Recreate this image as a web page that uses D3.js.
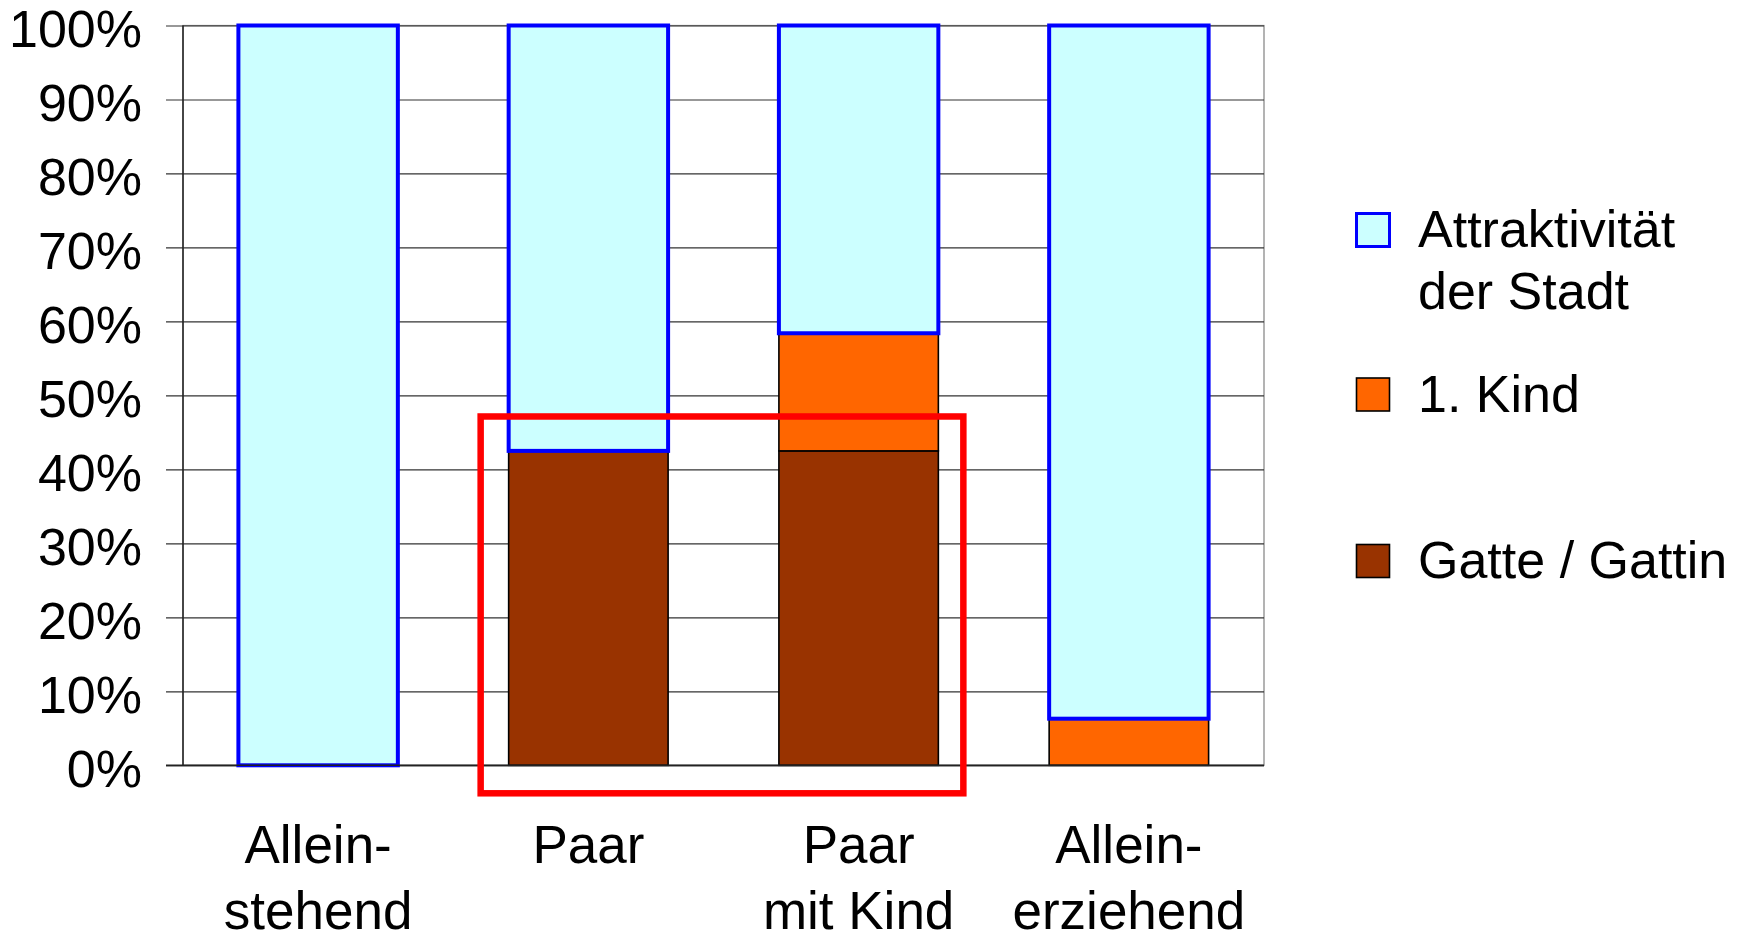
<!DOCTYPE html>
<html>
<head>
<meta charset="utf-8">
<script src="https://cdn.jsdelivr.net/npm/d3@7"></script>
<style>
  html, body { margin: 0; padding: 0; background: #fff; }
  svg { display: block; font-family: "Liberation Sans", Arial, sans-serif; }
</style>
</head>
<body>
<svg id="chart" width="1743" height="933"></svg>
<script>
// Household types (each label split into its drawn lines)
const categories = ["Alleinstehend", "Paar", "Paar mit Kind", "Alleinerziehend"];
const categoryLines = [["Allein-", "stehend"], ["Paar"], ["Paar", "mit Kind"], ["Allein-", "erziehend"]];

// Share of each reason (percent), stacked bottom to top
const gatte = [0, 42.5, 42.5, 0];
const kind = [0, 0, 15.9, 6.3];
const attraktivitaet = [100, 57.5, 41.6, 93.7];

const seriesNames = ["Gatte / Gattin", "1. Kind", "Attraktivität der Stadt"];
const yTicks = [0, 10, 20, 30, 40, 50, 60, 70, 80, 90, 100];

// Highlighted group
const highlighted = ["Paar", "Paar mit Kind"];

const svg = d3.select("#chart");
const plot = { left: 183, right: 1264, top: 25.5, bottom: 765.3 };

const x = d3.scaleBand().domain(categories)
  .range([plot.left, plot.right])
  .paddingInner(0.41).paddingOuter(0.205);
const y = d3.scaleLinear().domain([0, 100]).range([plot.bottom, plot.top]);

const rows = categories.map((c, i) => ({
  cat: c, gatte: gatte[i], kind: kind[i], attr: attraktivitaet[i]
}));
const keys = ["gatte", "kind", "attr"];
const stack = d3.stack().keys(keys)(rows);

const styles = {
  gatte: { fill: "#993300", stroke: "#000", sw: 1.6 },
  kind: { fill: "#FF6600", stroke: "#000", sw: 1.6 },
  attr: { fill: "#CCFFFF", stroke: "#0000FF", sw: 4 }
};

// Plot frame
svg.append("rect")
  .attr("x", plot.left).attr("y", plot.top)
  .attr("width", plot.right - plot.left).attr("height", plot.bottom - plot.top)
  .attr("fill", "none").attr("stroke", "#808080").attr("stroke-width", 1.2);

// Gridlines with outward tick marks
const yAxis = d3.axisLeft(y).tickValues(yTicks)
  .tickSize(-(plot.right - plot.left)).tickSizeOuter(0)
  .tickFormat(d => d + "%").tickPadding(41);
const gy = svg.append("g").attr("transform", `translate(${plot.left},0)`).call(yAxis);
gy.select(".domain").remove();
gy.selectAll(".tick line").attr("stroke", "#333").attr("stroke-width", 1.2)
  .attr("x1", -17);
gy.selectAll(".tick text")
  .attr("font-size", 52).attr("fill", "#000").attr("dy", "0.4em")
  .attr("font-family", "'Liberation Sans', Arial, sans-serif");

// Bars
keys.forEach((k, si) => {
  const st = styles[k];
  svg.append("g").selectAll("rect")
    .data(stack[si].filter(d => d[1] - d[0] > 0))
    .join("rect")
    .attr("x", d => x(d.data.cat))
    .attr("y", d => y(d[1]))
    .attr("width", x.bandwidth())
    .attr("height", d => y(d[0]) - y(d[1]))
    .attr("fill", st.fill)
    .attr("stroke", st.stroke)
    .attr("stroke-width", st.sw);
});

// Axis lines
svg.append("line")
  .attr("x1", plot.left).attr("x2", plot.left)
  .attr("y1", plot.top).attr("y2", plot.bottom)
  .attr("stroke", "#222").attr("stroke-width", 1.5);
svg.append("line")
  .attr("x1", plot.left - 17).attr("x2", plot.right)
  .attr("y1", y(0)).attr("y2", y(0))
  .attr("stroke", "#222").attr("stroke-width", 1.5);

// Category labels
const xl = svg.append("g");
categories.forEach((c, i) => {
  const t = xl.append("text")
    .attr("x", x(c) + x.bandwidth() / 2)
    .attr("y", 863)
    .attr("text-anchor", "middle")
    .attr("font-size", 53).attr("fill", "#000");
  categoryLines[i].forEach((line, j) => {
    t.append("tspan")
      .attr("x", x(c) + x.bandwidth() / 2)
      .attr("dy", j === 0 ? 0 : 66)
      .text(line);
  });
});

// Highlight frame around the couple groups
const hx0 = x(highlighted[0]) - 28;
const hx1 = x(highlighted[1]) + x.bandwidth() + 25;
svg.append("rect")
  .attr("x", hx0).attr("y", y(47.15))
  .attr("width", hx1 - hx0)
  .attr("height", (y(0) + 28) - y(47.15))
  .attr("fill", "none").attr("stroke", "#FF0000").attr("stroke-width", 6.5);

// Legend (top series first)
const legendItems = [
  { key: "attr", lines: ["Attraktivität", "der Stadt"], cy: 230 },
  { key: "kind", lines: ["1. Kind"], cy: 394.5 },
  { key: "gatte", lines: ["Gatte / Gattin"], cy: 561 }
];
const lg = svg.append("g");
legendItems.forEach(item => {
  const st = styles[item.key];
  const sw = item.key === "attr" ? 3 : 1.6;
  lg.append("rect")
    .attr("x", 1356.5).attr("y", item.cy - 16.5)
    .attr("width", 33).attr("height", 33)
    .attr("fill", st.fill).attr("stroke", st.stroke).attr("stroke-width", sw);
  const t = lg.append("text")
    .attr("x", 1418).attr("y", item.cy + 17)
    .attr("font-size", 52).attr("fill", "#000");
  item.lines.forEach((line, j) => {
    t.append("tspan").attr("x", 1418).attr("dy", j === 0 ? 0 : 61.7).text(line);
  });
});
</script>
</body>
</html>
